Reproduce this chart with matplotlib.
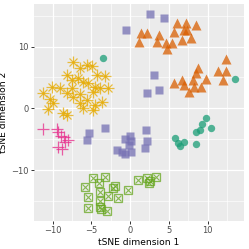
import matplotlib
matplotlib.use('Agg')
import matplotlib.pyplot as plt
import numpy as np

# tSNE coordinates per cluster
yellow_x = [-7.31, -6.45, -5.59, -4.94, -4.30, -3.23, -8.17, -7.52, -6.67, -6.02, -5.38,
            -4.52, -3.87, -2.80, -10.10, -9.03, -11.18, -8.17, -7.31, -6.45, -4.73,
            -10.32, -9.89, -10.54, -8.60, -8.17, -6.02, -5.59, -4.52, -3.65, -4.73, -6.45, -7.52]
yellow_y = [7.55, 6.48, 7.02, 6.86, 5.40, 5.24, 5.40, 4.59, 4.86, 4.31, 4.05,
            3.50, 3.24, 3.34, 3.50, 3.24, 2.53, 2.43, 1.88, 2.27, 2.69,
            1.46, 0.81, -0.16, -0.71, -1.09, 0.00, 1.35, 0.53, 1.07, -0.28, 0.81, 3.24]

teal_x = [-3.52, 13.51, 5.81, 6.19, 6.45, 6.90, 8.48, 8.51, 8.97, 9.29, 9.80, 10.38]
teal_y = [8.11, 4.70, -4.81, -5.62, -6.11, -5.38, -5.71, -3.84, -3.52, -2.54, -1.57, -3.24]

orange_x = [6.10, 7.19, 8.48, 5.68, 6.97, 1.38, 2.23, 1.16, 3.74, 3.52, 4.61, 5.46, 4.81,
            6.75, 7.83, 7.39,
            12.32, 11.35, 12.38, 12.00, 8.71, 8.45, 5.68, 6.71, 6.97, 8.06, 9.74, 9.09, 7.61, 8.26]
orange_y = [13.88, 13.88, 13.50, 12.42, 12.69, 12.16, 12.16, 10.80, 11.88, 10.80, 10.54, 10.54, 9.56,
            11.07, 11.35, 12.69,
            7.94, 6.05, 6.05, 4.59, 6.61, 5.72, 4.10, 4.59, 3.78, 4.59, 4.67, 3.53, 2.69, 3.53]

purple_x = [2.58, 4.39, -0.58, 3.10, 2.15, 3.74, -3.29, -5.29, -5.55, 2.00, 2.19, 1.94,
            -0.71, -0.06, -0.19, 0.06, -1.10, -1.68, -0.65, 0.13]
purple_y = [15.29, 14.56, 12.61, 5.40, 2.43, 2.97, -3.11, -3.92, -5.14, -3.44, -5.22, -6.48,
            -4.98, -4.49, -5.87, -7.08, -7.00, -6.76, -7.33, -5.30]

pink_x = [-11.18, -9.48, -9.29, -8.90, -8.51, -7.96, -8.39, -9.25, -8.84]
pink_y = [-3.36, -3.27, -3.84, -4.41, -4.65, -5.14, -5.46, -6.19, -6.52]

green_x = [-4.77, -3.29, -5.87, -4.00, -1.94, -2.15, -3.87, -5.38, -2.80, -1.51, -3.93,
           -5.38, -3.87, -3.81, -3.01, -0.26, 1.01, 2.23, 2.58, 3.35, 2.39]
green_y = [-11.22, -11.09, -12.68, -12.11, -12.55, -12.97, -13.49, -14.30, -14.14, -14.46, -14.95,
           -16.08, -15.95, -16.32, -16.68, -13.16, -11.54, -11.27, -11.78, -11.09, -12.11]

fig = plt.figure(figsize=(2.49, 2.49), dpi=100)
ax = fig.add_axes([0.1365, 0.1137, 0.8435, 0.8703])
ax.set_facecolor('#EBEBEB')

a = 0.75
# asterisk = plus + x
ax.plot(yellow_x, yellow_y, '+', color='#E6AB02', ms=8.5, mew=0.9, alpha=a, ls='none')
ax.plot(yellow_x, yellow_y, 'x', color='#E6AB02', ms=6, mew=0.9, alpha=a, ls='none')
ax.plot(teal_x, teal_y, 'o', color='#1B9E77', ms=5.3, mec='none', alpha=a, ls='none')
ax.plot(orange_x, orange_y, '^', color='#D95F02', ms=7.5, mec='none', alpha=a, ls='none')
ax.plot(purple_x, purple_y, 's', color='#7570B3', ms=5.3, mec='none', alpha=a, ls='none')
ax.plot(pink_x, pink_y, '+', color='#E7298A', ms=8, mew=0.9, alpha=a, ls='none')
# square with cross
ax.plot(green_x, green_y, 's', mfc='none', mec='#66A61E', ms=5.8, mew=0.9, alpha=a, ls='none')
ax.plot(green_x, green_y, 'x', color='#66A61E', ms=4, mew=0.8, alpha=a, ls='none')

ax.set_xlim(-12.4, 14.7)
ax.set_ylim(-18.2, 16.9)
ax.set_xticks([-10, -5, 0, 5, 10])
ax.set_yticks([-10, 0, 10])
ax.set_xticks([-7.5, -2.5, 2.5, 7.5, 12.5], minor=True)
ax.set_yticks([-15, -5, 5, 15], minor=True)
ax.grid(which='major', color='white', lw=0.9)
ax.grid(which='minor', color='white', lw=0.45)
ax.set_axisbelow(True)
for s in ax.spines.values():
    s.set_visible(False)
ax.tick_params(which='major', length=2.2, width=0.7, color='#333333', labelsize=6,
               labelcolor='#4D4D4D', pad=1.5)
ax.tick_params(which='minor', length=0)
ax.set_xlabel('tSNE dimension 1', fontsize=6.6, labelpad=2)
ax.set_ylabel('tSNE dimension 2', fontsize=6.6, labelpad=2.5)

fig.savefig('out.png', dpi=100)
